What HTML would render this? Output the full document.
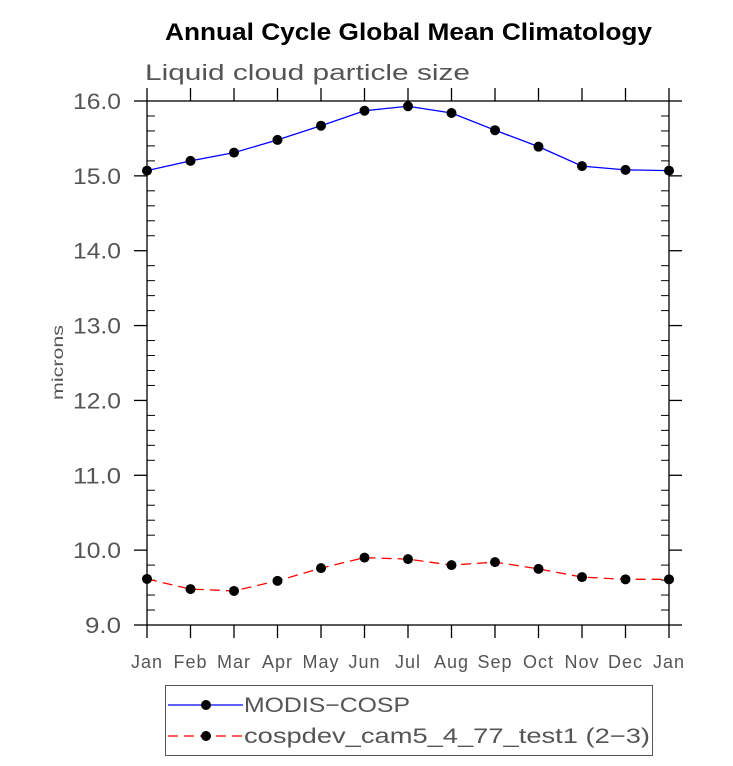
<!DOCTYPE html>
<html><head><meta charset="utf-8"><style>
body{margin:0;background:#fff;}
svg text{font-family:"Liberation Sans",sans-serif;}
</style></head><body>
<svg id="chart" width="733" height="761" viewBox="0 0 733 761" xmlns="http://www.w3.org/2000/svg">
<text x="165" y="40" font-size="24" font-weight="bold" fill="#000" textLength="487" lengthAdjust="spacingAndGlyphs">Annual Cycle Global Mean Climatology</text>
<text x="145" y="80" font-size="22" fill="#555" textLength="325" lengthAdjust="spacingAndGlyphs">Liquid cloud particle size</text>
<text transform="translate(63,325) rotate(-90)" text-anchor="end" font-size="16" fill="#555" textLength="75" lengthAdjust="spacingAndGlyphs">microns</text>
<g id="axes"></g>
<g id="series"></g>
<g>
<rect x="165.5" y="685.5" width="487" height="70" fill="none" stroke="#555" stroke-width="1"/>
<g>
<line x1="168" y1="705" x2="243" y2="705" stroke="#0000ff" stroke-width="1.3"/>
<circle cx="206" cy="705" r="5" fill="#000"/>
<text x="244" y="712" font-size="21" fill="#555" textLength="166" lengthAdjust="spacingAndGlyphs">MODIS−COSP</text></g>
<g>
<line x1="168" y1="736" x2="243" y2="736" stroke="#ff0000" stroke-width="1.3" stroke-dasharray="10,6"/>
<circle cx="206" cy="736" r="5" fill="#000"/>
<text x="244" y="743" font-size="21" fill="#555" textLength="406" lengthAdjust="spacingAndGlyphs">cospdev_cam5_4_77_test1 (2−3)</text></g>
</g>
</svg>
<script>
const months=["Jan","Feb","Mar","Apr","May","Jun","Jul","Aug","Sep","Oct","Nov","Dec","Jan"];
const modis=[15.07,15.20,15.31,15.48,15.67,15.87,15.93,15.84,15.61,15.39,15.13,15.08,15.07];
const cospdev=[9.615,9.48,9.455,9.59,9.76,9.90,9.88,9.80,9.84,9.75,9.64,9.61,9.61];
const yTicks=[9,10,11,12,13,14,15,16];
const yLabels=["9.0","10.0","11.0","12.0","13.0","14.0","15.0","16.0"];
const X0=147,X1=669,Y0=625,Y1=101,ymin=9,ymax=16;
const xs=i=>X0+(X1-X0)*i/(months.length-1);
const ys=v=>Y0-(v-ymin)/(ymax-ymin)*(Y0-Y1);
const NS="http://www.w3.org/2000/svg";
function mk(t,a,p){const e=document.createElementNS(NS,t);for(const k in a)e.setAttribute(k,a[k]);p.appendChild(e);return e;}
const ax=document.getElementById('axes');
const frame=mk('rect',{x:X0,y:Y1,width:X1-X0,height:Y0-Y1,fill:'none',stroke:'#000','stroke-width':1.3},ax);


yTicks.forEach((v,i)=>{
 const y=ys(v);
 mk('line',{x1:X0-13,y1:y,x2:X0,y2:y,stroke:'#000','stroke-width':1.3},ax);
 mk('line',{x1:X1,y1:y,x2:X1+13,y2:y,stroke:'#000','stroke-width':1.3},ax);
 const lab=yLabels[i];
 const w=lab.length*12;
 const t=mk('text',{x:121-w,y:y+8,'font-size':22,fill:'#555',textLength:w,lengthAdjust:'spacingAndGlyphs'},ax);
 t.textContent=lab;
 
 
 if(i<yTicks.length-1){for(let k=1;k<5;k++){const yy=ys(v+k*0.2);
  mk('line',{x1:X0,y1:yy,x2:X0+8,y2:yy,stroke:'#000','stroke-width':1},ax);
  mk('line',{x1:X1-8,y1:yy,x2:X1,y2:yy,stroke:'#000','stroke-width':1},ax);}}
});
months.forEach((m,i)=>{
 const x=xs(i);
 mk('line',{x1:x,y1:Y0,x2:x,y2:Y0+13,stroke:'#000','stroke-width':1.3},ax);
 mk('line',{x1:x,y1:Y1-13,x2:x,y2:Y1,stroke:'#000','stroke-width':1.3},ax);
 const t=mk('text',{x:x,y:668,'text-anchor':'middle','font-size':18,fill:'#555','letter-spacing':1},ax);
 t.textContent=m;
 
 
});
const sg=document.getElementById('series');
function series(vals,color,dash,name){
 const g=mk('g',{},sg);
 
 
 const a={points:vals.map((v,i)=>xs(i)+','+ys(v)).join(' '),fill:'none',stroke:color,'stroke-width':1.3};
 if(dash)a['stroke-dasharray']=dash;
 mk('polyline',a,g);
 vals.forEach((v,i)=>{const c=mk('circle',{cx:xs(i),cy:ys(v),r:5,fill:'#000'},g);
  
  });
}
series(modis,'#0000ff',null,'series-modis-cosp');
series(cospdev,'#ff0000','10,6','series-cospdev');
</script>
</body></html>
